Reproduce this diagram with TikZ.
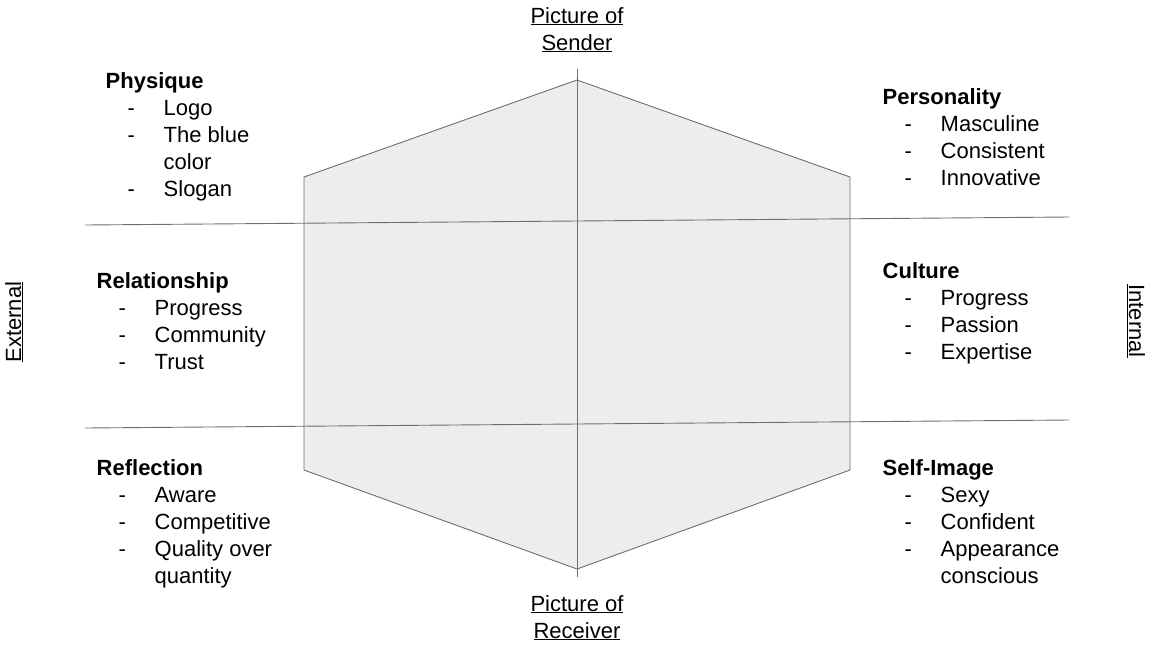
\documentclass[tikz,border=0pt]{standalone}
\usepackage{fontspec}
\setmainfont{Liberation Sans}
\definecolor{hexgray}{RGB}{237,237,237}
\definecolor{linegray}{RGB}{110,110,110}
\newcommand{\itm}[1]{\hspace*{22pt}\makebox[36pt][l]{-}#1}
\newcommand{\cnt}[1]{\hspace*{58pt}#1}
\tikzset{
  hexshape/.style={fill=hexgray, draw=linegray, line width=0.9pt},
  axisline/.style={draw=linegray, line width=0.9pt},
  facet/.style={anchor=base west, align=left, inner sep=0pt, font=\fontsize{22}{27}\selectfont},
  pole/.style={anchor=base, align=center, inner sep=0pt, font=\fontsize{22}{27}\selectfont},
}

\begin{document}
\begin{tikzpicture}[x=1pt,y=-1pt]
    \useasboundingbox (0,0) rectangle (1149,646);
    % hexagon
    \coordinate (top) at (577,80);
    \coordinate (ur) at (850,177);
    \coordinate (lr) at (850,470);
    \coordinate (bot) at (577,569);
    \coordinate (ll) at (304,470);
    \coordinate (ul) at (304,177);
    \draw[hexshape] (top) -- (ur) -- (lr) -- (bot) -- (ll) -- (ul) -- cycle;
    % axes
    \coordinate (vt) at (577,69);
    \coordinate (vb) at (577,577);
    \coordinate (h1w) at (85,225);
    \coordinate (h1e) at (1069,217);
    \coordinate (h2w) at (85,428);
    \coordinate (h2e) at (1069,420);
    \draw[axisline] (vt) -- (vb);
    \draw[axisline] (h1w) -- (h1e);
    \draw[axisline] (h2w) -- (h2e);
    % poles (base = last line)
    \node[pole] (sender) at (577,50) {\underline{Picture of}\\\underline{Sender}};
    \node[pole] (receiver) at (577,638) {\underline{Picture of}\\\underline{Receiver}};
    \node[pole, rotate=90] (external) at (21,322) {\underline{External}};
    \node[pole, rotate=-90] (internal) at (1129,321) {\underline{Internal}};
    % facets (base = last line)
    \node[facet] (physique) at (105.5,196) {\textbf{Physique}\\\itm{Logo}\\\itm{The blue}\\\cnt{color}\\\itm{Slogan}};
    \node[facet] (relationship) at (96.5,369) {\textbf{Relationship}\\\itm{Progress}\\\itm{Community}\\\itm{Trust}};
    \node[facet] (reflection) at (96.5,583) {\textbf{Reflection}\\\itm{Aware}\\\itm{Competitive}\\\itm{Quality over}\\\cnt{quantity}};
    \node[facet] (personality) at (882.5,185) {\textbf{Personality}\\\itm{Masculine}\\\itm{Consistent}\\\itm{Innovative}};
    \node[facet] (culture) at (882.5,359) {\textbf{Culture}\\\itm{Progress}\\\itm{Passion}\\\itm{Expertise}};
    \node[facet] (selfimage) at (882.5,583) {\textbf{Self-Image}\\\itm{Sexy}\\\itm{Confident}\\\itm{Appearance}\\\cnt{conscious}};
\end{tikzpicture}
\end{document}
